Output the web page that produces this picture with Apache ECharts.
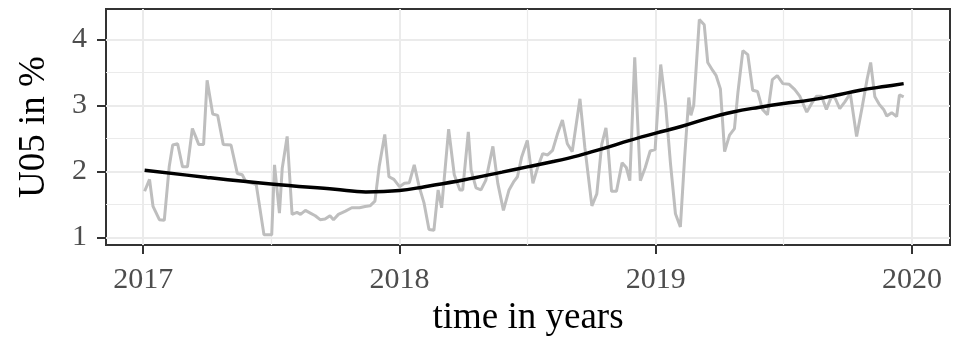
<!DOCTYPE html>
<html>
<head>
<meta charset="utf-8">
<script src="https://cdn.jsdelivr.net/npm/echarts@6/dist/echarts.min.js"></script>
<style>
  html, body { margin: 0; padding: 0; background: #ffffff; }
  #chart { width: 961px; height: 342px; }
</style>
</head>
<body>
<div id="chart"></div>
<script>
// Weekly U05 observations (%)
const obsDates = [
  '2017-01-03','2017-01-10','2017-01-15','2017-01-24','2017-01-31','2017-02-07','2017-02-12','2017-02-19',
  '2017-02-26','2017-03-05','2017-03-12','2017-03-17','2017-03-21','2017-03-28','2017-04-02','2017-04-10',
  '2017-04-17','2017-04-25','2017-05-06','2017-05-15','2017-05-22','2017-05-27','2017-06-11','2017-06-22',
  '2017-07-03','2017-07-07','2017-07-14','2017-07-18','2017-07-25','2017-08-01','2017-08-08','2017-08-13',
  '2017-08-20','2017-08-27','2017-09-03','2017-09-10','2017-09-17','2017-09-24','2017-09-29','2017-10-06',
  '2017-10-16','2017-10-25','2017-11-05','2017-11-13','2017-11-20','2017-11-27','2017-12-03','2017-12-11',
  '2017-12-17','2017-12-24','2018-01-01','2018-01-08','2018-01-15','2018-01-22','2018-01-29','2018-02-05',
  '2018-02-12','2018-02-19','2018-02-25','2018-03-02','2018-03-12','2018-03-20','2018-03-28','2018-04-01',
  '2018-04-09','2018-04-13','2018-04-20','2018-04-27','2018-05-04','2018-05-14','2018-05-21','2018-05-29',
  '2018-06-06','2018-06-13','2018-06-18','2018-06-24','2018-07-02','2018-07-10','2018-07-17','2018-07-24',
  '2018-07-31','2018-08-07','2018-08-14','2018-08-21','2018-08-28','2018-09-04','2018-09-15','2018-09-22',
  '2018-10-02','2018-10-09','2018-10-16','2018-10-22','2018-10-25','2018-10-30','2018-11-06','2018-11-14',
  '2018-11-20','2018-11-25','2018-12-02','2018-12-10','2018-12-17','2018-12-24','2018-12-31','2019-01-08',
  '2019-01-15','2019-01-22','2019-01-29','2019-02-05','2019-02-11','2019-02-17','2019-02-20','2019-02-24',
  '2019-03-04','2019-03-11','2019-03-16','2019-03-23','2019-03-28','2019-04-03','2019-04-09','2019-04-16',
  '2019-04-23','2019-04-28','2019-05-05','2019-05-12','2019-05-19','2019-05-26','2019-06-02','2019-06-09',
  '2019-06-16','2019-06-23','2019-07-01','2019-07-10','2019-07-18','2019-07-25','2019-08-04','2019-08-11',
  '2019-08-18','2019-08-25','2019-09-01','2019-09-08','2019-09-13','2019-09-20','2019-09-27','2019-10-05',
  '2019-10-14','2019-10-22','2019-10-29','2019-11-03','2019-11-09','2019-11-15','2019-11-22','2019-11-26',
  '2019-12-03','2019-12-10','2019-12-14','2019-12-20'
];
const obsValues = [
  1.70, 1.88, 1.47, 1.27, 1.26, 2.07, 2.40, 2.42,
  2.07, 2.07, 2.65, 2.52, 2.41, 2.41, 3.38, 2.87,
  2.85, 2.41, 2.40, 1.97, 1.95, 1.85, 1.80, 1.04,
  1.04, 2.10, 1.37, 2.05, 2.53, 1.35, 1.38, 1.35,
  1.41, 1.37, 1.33, 1.27, 1.28, 1.33, 1.27, 1.35,
  1.40, 1.45, 1.45, 1.47, 1.48, 1.55, 2.07, 2.56,
  1.92, 1.88, 1.77, 1.82, 1.83, 2.10, 1.77, 1.52,
  1.12, 1.11, 1.72, 1.45, 2.64, 1.95, 1.72, 1.72,
  2.60, 2.02, 1.75, 1.72, 1.87, 2.38, 1.82, 1.41,
  1.72, 1.85, 1.92, 2.22, 2.47, 1.82, 2.07, 2.27,
  2.25, 2.32, 2.57, 2.78, 2.42, 2.30, 3.10, 2.36,
  1.48, 1.66, 2.41, 2.66, 2.36, 1.70, 1.70, 2.13,
  2.06, 1.86, 3.73, 1.86, 2.06, 2.31, 2.33, 3.62,
  3.01, 2.11, 1.36, 1.16, 2.20, 3.12, 2.85, 3.00,
  4.30, 4.22, 3.65, 3.53, 3.45, 3.25, 2.30, 2.55,
  2.65, 3.20, 3.83, 3.77, 3.23, 3.21, 2.94, 2.86,
  3.39, 3.45, 3.33, 3.32, 3.24, 3.14, 2.90, 3.03,
  3.14, 3.14, 2.94, 3.13, 3.12, 2.95, 3.05, 3.18,
  2.53, 2.98, 3.40, 3.65, 3.13, 3.02, 2.93, 2.84,
  2.89, 2.83, 3.16, 3.13
];

// Smoothed trend (%)
const trendDates = [
  '2017-01-03','2017-04-02','2017-07-02','2017-10-01','2017-11-14','2018-01-01','2018-02-06',
  '2018-04-02','2018-05-27','2018-07-02','2018-08-08','2018-09-13','2018-10-19','2018-11-25',
  '2019-01-01','2019-02-06','2019-03-15','2019-04-21','2019-05-27','2019-07-02','2019-08-08',
  '2019-09-13','2019-10-19','2019-11-25','2019-12-20'
];
const trendValues = [
  2.02, 1.91, 1.81, 1.73, 1.69, 1.71, 1.77,
  1.87, 1.99, 2.07, 2.15, 2.24, 2.35, 2.47,
  2.58, 2.68, 2.80, 2.90, 2.97, 3.03, 3.08,
  3.15, 3.23, 3.29, 3.33
];

// Axis breaks
const yearTicks = ['2017-01-01', '2018-01-01', '2019-01-01', '2020-01-01'];
const halfYearTicks = ['2017-07-02', '2018-07-02', '2019-07-02'];
const yTicks = [1, 2, 3, 4];
const yMinorTicks = [1.5, 2.5, 3.5];

const xMin = '2016-11-09';
const xMax = '2020-02-24';
const yMin = 0.885;
const yMax = 4.46;

// Dates are handled as UTC millisecond timestamps on a linear axis
const ts = (d) => Date.parse(d + 'T00:00:00Z');

const serif = '"Liberation Serif", "DejaVu Serif", serif';
const gridMajor = '#ebebeb';

const chart = echarts.init(document.getElementById('chart'), null, { renderer: 'canvas' });

chart.setOption({
  animation: false,
  backgroundColor: '#ffffff',
  grid: {
    left: 106, right: 11, top: 9, bottom: 94,
    show: true, borderColor: '#333333', borderWidth: 2, backgroundColor: '#ffffff',
    containLabel: false
  },
  xAxis: [
    {
      type: 'value', min: ts(xMin), max: ts(xMax), position: 'bottom',
      axisLine: { show: false },
      axisTick: { show: true, length: 9, lineStyle: { color: '#333333', width: 2 }, customValues: yearTicks.map(ts) },
      axisLabel: {
        customValues: yearTicks.map(ts),
        formatter: (v) => String(new Date(v).getUTCFullYear()),
        fontFamily: serif, fontSize: 30, color: '#4d4d4d', margin: 20
      },
      splitLine: { show: true, lineStyle: { color: gridMajor, width: 2 } },
      name: 'time in years', nameLocation: 'middle', nameGap: 52,
      nameTextStyle: { fontFamily: serif, fontSize: 37, color: '#000000' }
    },
    {
      type: 'value', min: ts(xMin), max: ts(xMax), position: 'top',
      axisLine: { show: false },
      axisTick: { show: false, customValues: halfYearTicks.map(ts) },
      axisLabel: { show: false, customValues: halfYearTicks.map(ts) },
      splitLine: { show: true, lineStyle: { color: gridMajor, width: 1.2 } }
    }
  ],
  yAxis: [
    {
      type: 'value', min: yMin, max: yMax, position: 'left',
      axisLine: { show: false },
      axisTick: { show: true, length: 9, lineStyle: { color: '#333333', width: 2 }, customValues: yTicks },
      axisLabel: {
        customValues: yTicks,
        fontFamily: serif, fontSize: 30, color: '#4d4d4d', margin: 19
      },
      splitLine: { show: true, lineStyle: { color: gridMajor, width: 2 } },
      name: 'U05 in %', nameLocation: 'middle', nameGap: 53, nameRotate: 90,
      nameTextStyle: { fontFamily: serif, fontSize: 37, color: '#000000' }
    },
    {
      type: 'value', min: yMin, max: yMax, position: 'right',
      axisLine: { show: false },
      axisTick: { show: false, customValues: yMinorTicks },
      axisLabel: { show: false, customValues: yMinorTicks },
      splitLine: { show: true, lineStyle: { color: gridMajor, width: 1.2 } }
    }
  ],
  series: [
    {
      name: 'U05', type: 'line', xAxisIndex: 0, yAxisIndex: 0,
      data: obsDates.map((d, i) => [ts(d), obsValues[i]]),
      showSymbol: false, symbol: 'none',
      lineStyle: { color: '#bebebe', width: 3 },
      z: 2
    },
    {
      name: 'trend', type: 'line', xAxisIndex: 0, yAxisIndex: 0,
      data: trendDates.map((d, i) => [ts(d), trendValues[i]]),
      smooth: 0.4, showSymbol: false, symbol: 'none',
      lineStyle: { color: '#000000', width: 3.5 },
      z: 3
    }
  ]
});
</script>
</body>
</html>
